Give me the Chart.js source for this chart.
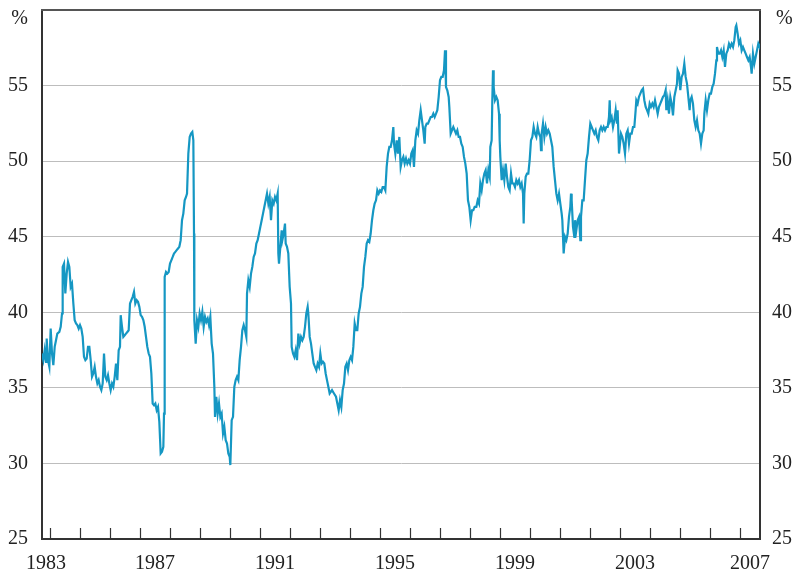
<!DOCTYPE html>
<html>
<head>
<meta charset="utf-8">
<script src="https://cdn.jsdelivr.net/npm/chart.js@4/dist/chart.umd.min.js"></script>
<style>
  html, body { margin: 0; padding: 0; background: #ffffff; }
  canvas { display: block; }
</style>
</head>
<body>
<canvas id="c" width="797" height="574"></canvas>
<script>
// ---- Data ----
const years = [
  1983.733,1983.778,1983.822,1983.867,1983.889,1983.933,1983.978,1984.022,1984.067,1984.111,
  1984.156,1984.2,1984.244,1984.311,1984.356,1984.4,1984.422,1984.467,1984.511,1984.556,
  1984.6,1984.644,1984.689,1984.733,1984.778,1984.822,1984.867,1984.911,1984.956,1985.0,
  1985.044,1985.089,1985.133,1985.178,1985.222,1985.267,1985.311,1985.356,1985.4,1985.444,
  1985.489,1985.533,1985.578,1985.622,1985.667,1985.711,1985.756,1985.8,1985.844,1985.889,
  1985.933,1985.978,1986.022,1986.067,1986.111,1986.156,1986.2,1986.244,1986.289,1986.333,
  1986.356,1986.4,1986.444,1986.489,1986.533,1986.578,1986.622,1986.667,1986.711,1986.756,
  1986.8,1986.844,1986.889,1986.933,1986.978,1987.022,1987.067,1987.111,1987.156,1987.2,
  1987.244,1987.289,1987.333,1987.378,1987.422,1987.467,1987.511,1987.556,1987.6,1987.644,
  1987.689,1987.733,1987.778,1987.8,1987.822,1987.867,1987.911,1987.956,1988.0,1988.044,
  1988.089,1988.133,1988.178,1988.222,1988.267,1988.311,1988.356,1988.4,1988.444,1988.489,
  1988.533,
  1988.567,1988.611,1988.656,1988.7,1988.744,1988.778,1988.8,1988.811,1988.856,1988.9,
  1988.944,1988.989,1989.033,1989.078,1989.122,1989.167,1989.211,1989.256,1989.3,1989.344,
  1989.389,1989.433,1989.478,1989.5,1989.544,1989.589,1989.633,1989.678,1989.722,1989.767,
  1989.811,1989.856,1989.9,1989.944,1989.989,1990.011,1990.056,1990.1,1990.144,1990.189,
  1990.233,1990.278,1990.322,1990.367,1990.411,1990.456,1990.5,1990.544,1990.567,1990.611,
  1990.656,1990.7,1990.744,1990.789,1990.833,1990.878,1990.922,1990.967,1991.011,1991.056,
  1991.1,1991.144,1991.189,1991.233,1991.278,1991.322,1991.367,1991.411,1991.456,1991.5,
  1991.544,1991.589,1991.611,1991.633,1991.678,1991.722,1991.744,1991.789,1991.833,1991.856,
  1991.9,1991.944,1991.989,1992.033,1992.056,1992.1,1992.144,1992.189,1992.233,1992.278,
  1992.322,1992.367,1992.411,1992.456,1992.5,1992.544,1992.589,1992.611,1992.656,1992.7,
  1992.744,1992.789,1992.833,1992.878,1992.922,1992.967,1993.011,1993.056,1993.1,1993.144,
  1993.189,1993.233,1993.278,1993.322,
  1993.4,1993.467,1993.533,1993.578,1993.622,1993.667,1993.711,1993.756,1993.8,1993.844,
  1993.889,1993.933,1993.978,1994.022,1994.067,1994.111,1994.156,1994.2,1994.244,1994.289,
  1994.333,1994.378,1994.422,1994.467,1994.511,1994.556,1994.6,1994.644,1994.689,1994.733,
  1994.778,1994.822,1994.867,1994.911,1994.956,1995.0,1995.044,1995.089,1995.133,1995.178,
  1995.222,1995.267,1995.311,1995.356,1995.4,1995.444,1995.467,1995.511,1995.556,1995.6,
  1995.644,1995.689,1995.733,1995.778,1995.822,1995.867,1995.911,1995.956,1996.0,1996.044,
  1996.089,1996.133,1996.178,1996.222,1996.267,1996.311,1996.356,1996.4,1996.444,1996.489,
  1996.511,1996.556,1996.6,1996.644,1996.689,1996.733,1996.778,1996.822,1996.867,1996.911,
  1996.956,1997.0,1997.044,1997.089,1997.133,1997.167,1997.2,1997.244,1997.289,1997.311,
  1997.356,1997.4,1997.444,1997.489,1997.533,1997.578,1997.622,1997.667,1997.711,1997.756,
  1997.8,1997.844,1997.889,1997.933,1997.978,1998.022,1998.067,1998.111,1998.156,
  1998.211,1998.256,1998.3,1998.344,1998.389,1998.433,1998.478,1998.522,1998.567,1998.611,
  1998.656,1998.678,1998.722,1998.744,1998.767,1998.789,1998.833,1998.878,1998.922,1998.967,
  1998.989,1999.011,1999.056,1999.1,1999.144,1999.189,1999.233,1999.278,1999.322,1999.367,
  1999.411,1999.456,1999.5,1999.544,1999.589,1999.633,1999.678,1999.722,1999.767,1999.789,
  1999.811,1999.856,1999.9,1999.944,1999.989,2000.033,2000.078,2000.122,2000.167,2000.211,
  2000.256,2000.3,2000.344,2000.367,2000.389,2000.433,2000.478,2000.522,2000.567,2000.611,
  2000.656,2000.7,2000.744,2000.789,2000.833,2000.878,2000.922,2000.967,2001.011,2001.056,
  2001.078,2001.122,2001.167,2001.211,2001.256,2001.3,2001.344,2001.367,2001.389,2001.433,
  2001.478,2001.5,2001.544,2001.589,2001.633,2001.678,2001.7,2001.744,2001.789,2001.833,
  2001.878,2001.922,2001.967,2002.011,2002.056,2002.1,2002.144,2002.189,2002.233,2002.278,
  2002.322,2002.367,2002.411,2002.456,2002.5,2002.544,2002.589,2002.633,2002.656,2002.678,
  2002.722,2002.767,2002.811,2002.856,2002.9,2002.922,2002.967,
  2003.033,2003.078,2003.122,2003.167,2003.211,2003.256,2003.3,2003.344,2003.389,2003.433,
  2003.478,2003.522,2003.544,2003.589,2003.633,2003.678,2003.722,2003.767,2003.811,2003.856,
  2003.9,2003.944,2003.989,2004.033,2004.078,2004.122,2004.167,2004.211,2004.256,2004.3,
  2004.344,2004.389,2004.433,2004.478,2004.522,2004.544,2004.589,2004.633,2004.678,2004.722,
  2004.767,2004.811,2004.856,2004.9,2004.922,2004.967,2005.011,2005.056,2005.1,2005.144,
  2005.189,2005.233,2005.278,2005.322,2005.344,2005.389,2005.433,2005.478,2005.522,2005.567,
  2005.611,2005.656,2005.7,2005.744,2005.789,2005.811,2005.856,2005.9,2005.944,2005.989,
  2006.033,2006.078,2006.122,2006.167,2006.211,2006.233,2006.278,2006.322,2006.367,2006.411,
  2006.456,2006.5,2006.544,2006.589,2006.633,2006.678,2006.722,2006.767,2006.811,2006.856,
  2006.878,2006.922,2006.967,2007.011,2007.056,2007.1,2007.144,2007.189,2007.233,2007.278,
  2007.322,2007.367,2007.389,2007.433,2007.478,2007.522,2007.567,2007.611,2007.633
];

const shares = [
  37.27,36.83,37.49,36.72,38.26,36.83,36.39,38.92,37.27,36.5,
  37.71,38.15,38.59,38.7,39.04,39.92,43.0,43.22,41.24,42.56,
  43.33,43.0,41.68,41.9,40.58,39.48,39.26,39.15,38.92,39.15,
  38.92,38.37,37.05,36.83,36.94,37.71,37.71,36.83,35.73,35.95,
  36.39,35.73,35.29,35.51,35.07,34.85,35.29,37.27,35.73,35.51,
  35.84,35.29,34.85,35.29,35.07,35.73,36.61,35.51,37.49,37.71,
  39.81,39.04,38.37,38.48,38.59,38.7,38.81,40.58,40.8,41.02,
  41.35,40.58,40.8,40.69,40.36,39.81,39.7,39.48,39.04,38.37,
  37.71,37.27,37.05,35.95,33.96,33.85,33.96,33.52,33.74,32.75,
  30.66,30.77,31.1,33.3,42.34,42.67,42.56,42.67,43.22,43.44,
  43.66,43.89,44.0,44.11,44.22,44.33,44.77,46.09,46.53,47.41,
  47.63,
  47.85,50.5,51.6,51.82,51.93,51.38,45.21,39.48,37.93,39.48,
  39.04,39.92,39.48,40.03,39.04,39.7,39.37,39.59,39.15,39.7,
  37.93,37.27,35.07,33.08,34.41,33.3,33.96,33.08,33.3,31.98,
  32.42,31.54,31.32,30.66,30.44,29.89,32.86,33.08,35.07,35.51,
  35.73,35.51,36.83,37.71,38.81,39.15,38.81,38.37,41.24,42.12,
  41.68,42.56,43.0,43.66,43.89,44.55,44.77,45.21,45.65,46.09,
  46.53,46.97,47.41,47.85,47.19,47.63,46.09,47.41,47.19,47.63,
  47.41,47.85,43.89,43.22,44.33,45.43,44.77,45.21,45.87,44.55,
  44.33,43.89,41.68,40.58,37.71,37.27,37.05,37.49,36.83,38.59,
  37.93,38.37,38.15,38.37,39.04,39.92,40.36,39.92,38.37,37.93,
  37.27,36.61,36.39,36.17,36.61,36.39,37.27,36.61,36.72,36.61,
  35.95,35.51,35.07,34.63,
  34.85,34.63,34.41,33.96,33.52,34.18,33.74,34.85,35.29,36.39,
  36.61,36.17,36.83,37.05,36.83,37.71,39.26,38.81,38.81,39.92,
  40.36,41.24,41.68,43.0,43.66,44.55,44.77,44.66,45.21,46.09,
  46.75,47.19,47.41,48.07,47.85,48.07,47.96,48.29,48.29,48.07,
  49.62,50.5,50.94,50.94,51.38,52.26,51.16,50.5,51.38,50.5,
  51.6,49.62,50.06,50.28,49.84,50.17,49.84,50.06,49.84,50.5,
  50.72,49.62,51.38,52.04,51.82,52.7,53.37,52.7,52.04,51.16,
  52.26,52.48,52.48,52.7,52.92,52.92,53.14,52.92,53.14,53.37,
  54.25,55.35,55.57,55.57,56.01,57.33,54.91,54.69,54.25,53.59,
  51.82,52.04,52.26,52.04,51.82,52.04,51.6,51.6,51.16,50.94,
  50.28,49.84,49.18,47.41,46.97,46.09,46.75,46.75,46.97,
  46.97,47.41,47.19,48.52,48.07,48.74,49.18,49.4,48.52,49.4,
  48.96,50.94,51.38,54.03,56.01,54.91,54.03,54.25,54.03,53.14,
  51.38,50.28,48.74,49.4,48.74,49.84,48.96,48.29,48.07,49.18,
  48.52,48.52,48.29,48.74,48.52,48.74,48.29,48.52,47.85,45.87,
  47.85,48.96,49.18,49.18,50.06,51.38,51.6,52.26,51.82,51.6,
  52.26,51.82,51.6,50.72,51.82,52.48,51.6,52.26,51.82,52.04,
  51.82,51.38,50.94,49.62,48.74,47.85,47.41,47.85,47.19,46.53,
  46.09,43.89,44.99,44.77,45.21,46.31,46.97,47.85,47.41,45.65,
  44.99,46.09,45.43,46.09,46.31,44.77,46.31,47.41,47.41,48.74,
  50.06,50.5,51.6,52.48,52.26,52.04,51.82,52.04,51.6,51.38,
  52.04,52.26,52.04,52.26,52.04,52.26,52.26,52.92,54.03,52.7,
  52.92,52.26,52.7,53.37,52.48,53.37,50.5,
  51.82,51.6,51.16,50.5,51.82,52.04,51.16,51.82,51.82,52.26,
  52.26,53.37,54.03,53.81,54.25,54.47,54.69,54.8,54.03,53.59,
  53.37,53.14,53.81,53.59,53.81,53.59,54.03,53.59,53.14,53.59,
  53.81,54.03,54.25,54.36,54.69,53.37,54.03,53.14,54.25,53.81,
  53.03,54.25,54.69,55.13,56.01,55.79,54.69,55.57,55.79,56.45,
  55.57,55.13,54.25,53.37,54.03,54.25,53.81,52.7,52.26,52.7,
  52.04,51.82,51.16,51.82,52.04,53.14,54.03,53.37,54.03,54.47,
  54.47,54.91,55.13,55.79,56.67,57.55,57.11,57.11,57.33,56.89,
  57.33,56.23,57.11,57.33,57.77,57.55,57.77,57.55,57.99,58.88,
  58.99,58.44,57.77,57.99,57.33,57.55,57.33,57.11,56.89,56.67,
  56.89,56.23,55.79,57.11,56.45,56.89,57.33,57.77,57.66
];

const xLabelPositions = [1983.867, 1987.5, 1991.5, 1995.5, 1999.5, 2003.5, 2007.333];
const xLabels = ['1983', '1987', '1991', '1995', '1999', '2003', '2007'];
const yearTicks = [1984,1985,1986,1987,1988,1989,1990,1991,1992,1993,1994,1995,
                   1996,1997,1998,1999,2000,2001,2002,2003,2004,2005,2006,2007];
const unitLabel = '%';

// ---- Chart ----
const FONT = "'Liberation Serif', 'Times New Roman', serif";
Chart.defaults.font.family = FONT;
Chart.defaults.font.size = 20;
Chart.defaults.color = '#222222';

const framePlugin = {
  id: 'frame',
  afterDraw(chart) {
    const { ctx, chartArea: a, scales } = chart;
    const x = scales.x;
    ctx.save();
    // inward year tick marks
    ctx.strokeStyle = '#333333';
    ctx.lineWidth = 1.2;
    ctx.beginPath();
    yearTicks.forEach(yr => {
      const px = Math.round(x.getPixelForValue(yr)) + 0.5;
      ctx.moveTo(px, a.bottom);
      ctx.lineTo(px, a.bottom - 11);
    });
    ctx.stroke();
    // top frame line
    ctx.strokeStyle = '#555555';
    ctx.lineWidth = 2;
    ctx.beginPath();
    ctx.moveTo(a.left - 1, a.top);
    ctx.lineTo(a.right + 1, a.top);
    ctx.stroke();
    // unit labels
    ctx.fillStyle = '#222222';
    ctx.font = "20px " + FONT;
    ctx.textBaseline = 'middle';
    ctx.textAlign = 'right';
    ctx.fillText(unitLabel, a.left - 14, 19);
    ctx.textAlign = 'left';
    ctx.fillText(unitLabel, a.right + 16, 19);
    ctx.restore();
  }
};

function fixVertical(width) {
  return axis => {
    axis.width = width;
    axis.paddingTop = 0;
    axis.paddingBottom = 0;
  };
}

new Chart(document.getElementById('c'), {
  type: 'line',
  data: {
    datasets: [{
      data: years.map((yr, i) => ({ x: yr, y: shares[i] })),
      borderColor: '#1597c3',
      borderWidth: 2.2,
      pointRadius: 0,
      tension: 0,
      fill: false,
      yAxisID: 'y'
    }]
  },
  options: {
    responsive: false,
    animation: false,
    events: [],
    layout: { padding: { top: 10, left: 0, right: 0, bottom: 0 } },
    plugins: { legend: { display: false }, tooltip: { enabled: false } },
    scales: {
      x: {
        type: 'linear',
        min: 1983.733,
        max: 2007.667,
        afterBuildTicks: axis => { axis.ticks = xLabelPositions.map(v => ({ value: v })); },
        afterFit: axis => { axis.height = 35; axis.paddingLeft = 0; axis.paddingRight = 0; },
        grid: { display: false, drawTicks: false },
        border: { display: true, color: '#333333', width: 2 },
        ticks: {
          autoSkip: false,
          maxRotation: 0,
          minRotation: 0,
          padding: 13,
          callback: (v, i) => xLabels[i]
        }
      },
      y: {
        position: 'left',
        min: 25,
        max: 60,
        afterFit: fixVertical(42),
        grid: { color: '#bdbdbd', lineWidth: 1, drawTicks: false },
        border: { display: true, color: '#333333', width: 2 },
        ticks: {
          stepSize: 5,
          padding: 14,
          callback: v => (v === 60 ? '' : v)
        }
      },
      y2: {
        position: 'right',
        min: 25,
        max: 60,
        afterFit: fixVertical(37),
        grid: { drawOnChartArea: false, drawTicks: false },
        border: { display: true, color: '#333333', width: 2 },
        ticks: {
          stepSize: 5,
          padding: 12,
          callback: v => (v === 60 ? '' : v)
        }
      }
    }
  },
  plugins: [framePlugin]
});
</script>
</body>
</html>
